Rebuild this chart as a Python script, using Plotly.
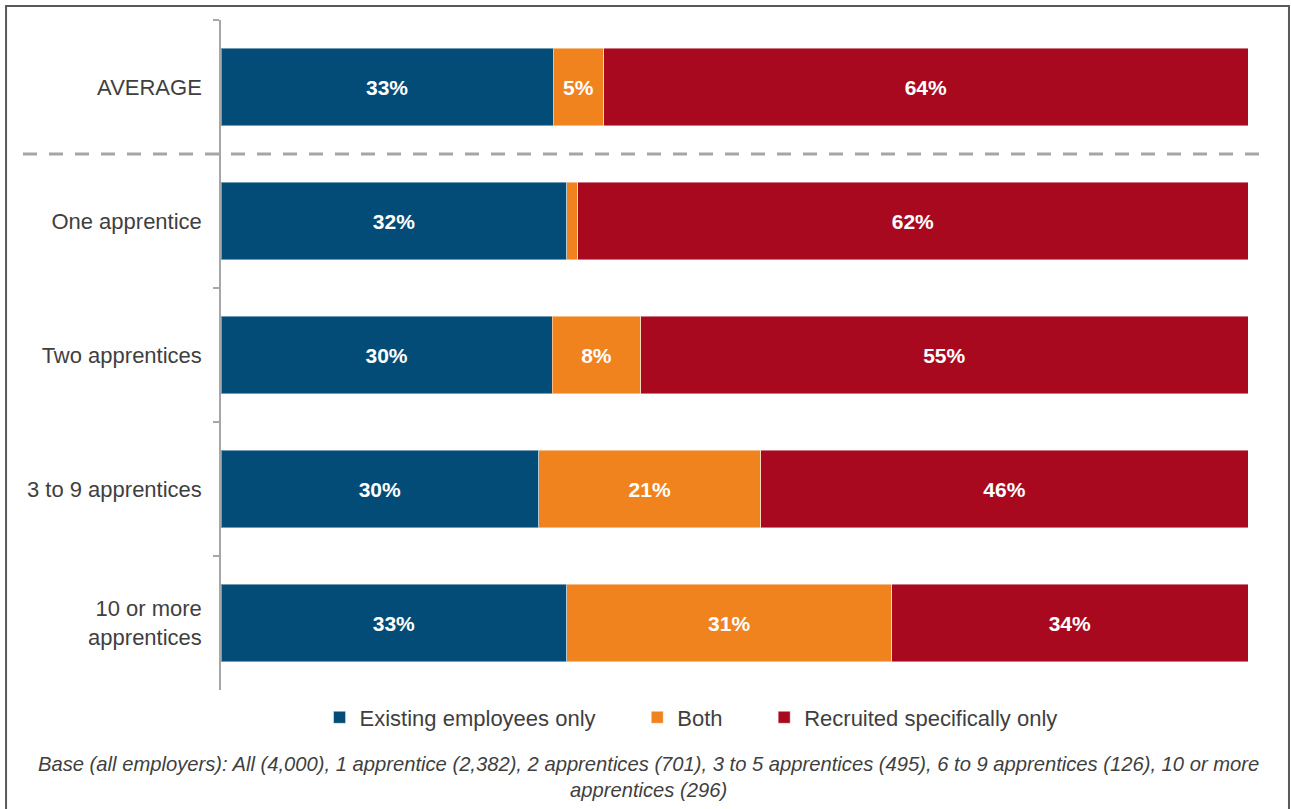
import plotly.graph_objects as go

# Group labels (top to bottom)
categories = ["AVERAGE", "One apprentice", "Two apprentices", "3 to 9 apprentices",
              "10 or more<br>apprentices"]

# Shares of employers (%), per group
existing_only = [33, 32, 30, 30, 33]
both = [5, 1, 8, 21, 31]
recruited_only = [64, 62, 55, 46, 34]

series_names = ["Existing employees only", "Both", "Recruited specifically only"]
series_colors = ["#024C77", "#F0831E", "#A8091F"]

footnote = ("Base (all employers): All (4,000), 1 apprentice (2,382), 2 apprentices (701), "
            "3 to 5 apprentices (495), 6 to 9 apprentices (126), 10 or more<br>apprentices (296)")

FONT = "Arial, 'Liberation Sans', sans-serif"
TEXT_COLOR = "#3F3F3F"

# extra room after a legend entry so the entries spread out
PAD = "\u00a0" * 6

fig = go.Figure()
for i, (name, vals, color) in enumerate(zip(series_names, [existing_only, both, recruited_only],
                                            series_colors)):
    label = name + (PAD if i < len(series_names) - 1 else "")
    fig.add_trace(go.Bar(
        y=categories,
        x=vals,
        name=label,
        orientation="h",
        marker=dict(color=color, line=dict(color="rgba(255,255,255,0.45)", width=1)),
        text=[f"{v}%" if v >= 3 else "" for v in vals],
        textposition="inside",
        insidetextanchor="middle",
        textangle=0,
        textfont=dict(family=FONT, size=21, color="white", weight="bold"),
        constraintext="none",
        hoverinfo="skip",
    ))

fig.update_layout(
    barmode="stack",
    barnorm="percent",
    bargap=0.425,
    width=1291,
    height=809,
    margin=dict(l=221, r=43, t=20, b=119),
    paper_bgcolor="white",
    plot_bgcolor="white",
    font=dict(family=FONT, size=22, color=TEXT_COLOR),
    uniformtext=dict(minsize=10, mode="show"),
    showlegend=True,
    legend=dict(
        orientation="h",
        x=0.4577, xanchor="center",
        y=-0.041, yanchor="middle",
        font=dict(family=FONT, size=22, color=TEXT_COLOR),
        itemwidth=30,
        traceorder="normal",
    ),
)

fig.update_xaxes(range=[0, 100], visible=False, fixedrange=True)
fig.update_yaxes(
    categoryorder="array",
    categoryarray=categories,
    autorange="reversed",
    showline=True,
    linecolor="#A6A6A6",
    linewidth=1.5,
    ticks="outside",
    tickson="boundaries",
    ticklen=6,
    tickcolor="#A6A6A6",
    tickwidth=1.5,
    ticklabelstandoff=13,
    showgrid=False,
    zeroline=False,
    tickfont=dict(family=FONT, size=22, color=TEXT_COLOR),
)

# Dashed separator between the average and the size groups
fig.add_shape(type="line", xref="paper", yref="y",
              x0=-0.1928, x1=1.0205, y0=0.5, y1=0.5,
              line=dict(color="#A6A6A6", width=3, dash="14px,12px"))

# Outer frame
fig.add_shape(type="rect", xref="paper", yref="paper",
              x0=-0.2093, x1=1.0399, y0=-0.19, y1=1.0209,
              line=dict(color="#595959", width=2), fillcolor="rgba(0,0,0,0)", layer="above")

fig.add_annotation(
    text=footnote,
    xref="paper", yref="paper",
    x=0.4158, y=-0.13, xanchor="center", yanchor="middle",
    showarrow=False,
    align="center",
    font=dict(family=FONT, size=20.2, color=TEXT_COLOR, style="italic"),
)

fig.write_html("out.html")
